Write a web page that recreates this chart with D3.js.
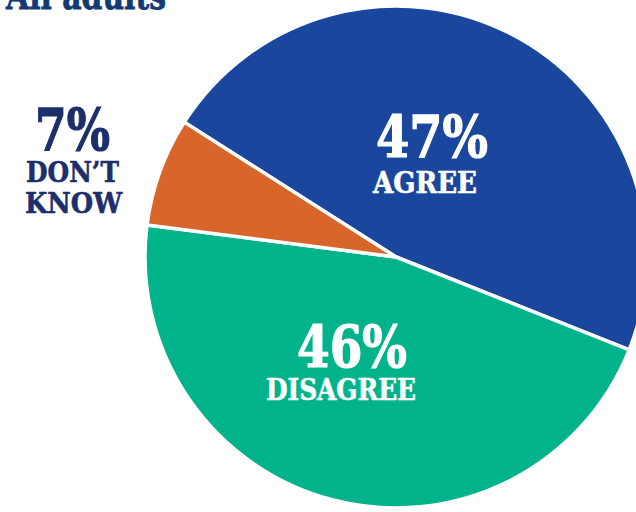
<!DOCTYPE html>
<html>
<head>
<meta charset="utf-8">
<script src="https://cdn.jsdelivr.net/npm/d3@7"></script>
<style>
  html, body { margin: 0; padding: 0; background: #fff; }
  svg { display: block; }
</style>
</head>
<body>
<svg id="chart" width="636" height="512"></svg>
<script>
const categories = ["AGREE", "DISAGREE", "DON\u2019T KNOW"];
const values = [47, 46, 7];
const pctLabels = ["47%", "46%", "7%"];
const colors = ["#1A479D", "#00B38A", "#D8652A"];
const title = "All adults";

const svg = d3.select("#chart");
const cx = 396, cy = 257, R = 251;

const pie = d3.pie().sort(null).value(d => d)
  .startAngle(-57.5 * Math.PI / 180)
  .endAngle(302.5 * Math.PI / 180);
const arcs = pie(values);
const arc = d3.arc().innerRadius(0).outerRadius(R);

const g = svg.append("g").attr("transform", `translate(${cx},${cy})`);
g.selectAll("path").data(arcs).join("path")
  .attr("d", arc)
  .attr("fill", (d, i) => colors[i])
  .attr("stroke", "#fff")
  .attr("stroke-width", 3.5)
  .attr("stroke-linejoin", "round");

// Title (cut off at top in the reference)
svg.append("text")
  .attr("x", 6).attr("y", 9)
  .attr("font-family", "DejaVu Serif")
  .attr("font-weight", "bold")
  .attr("font-size", 38)
  .attr("fill", "#123A74")
  .attr("stroke", "#123A74").attr("stroke-width", 0.8)
  .attr("textLength", 160).attr("lengthAdjust", "spacingAndGlyphs")
  .text(title);

const labelSpecs = [
  { color: "#fff", pct: { x: 376, y: 157, w: 112, fs: 57 },
    lines: [{ t: categories[0], x: 373, y: 193, w: 104, fs: 29 }] },
  { color: "#fff", pct: { x: 297, y: 367, w: 110, fs: 57 },
    lines: [{ t: categories[1], x: 266, y: 400, w: 150, fs: 29 }] },
  { color: "#1D2E6C", pct: { x: 35, y: 150, w: 75, fs: 57 },
    lines: [{ t: "DON\u2019T", x: 26, y: 182, w: 93, fs: 28 },
            { t: "KNOW", x: 25, y: 213, w: 97, fs: 28 }] }
];

labelSpecs.forEach((s, i) => {
  svg.append("text")
    .attr("x", s.pct.x).attr("y", s.pct.y)
    .attr("font-family", "DejaVu Serif")
    .attr("font-weight", "bold")
    .attr("font-size", s.pct.fs)
    .attr("fill", s.color)
    .attr("stroke", s.color).attr("stroke-width", 1.2)
    .attr("textLength", s.pct.w).attr("lengthAdjust", "spacingAndGlyphs")
    .text(pctLabels[i]);
  s.lines.forEach(l => {
    svg.append("text")
      .attr("x", l.x).attr("y", l.y)
      .attr("font-family", "DejaVu Serif")
      .attr("font-weight", "bold")
      .attr("font-size", l.fs)
      .attr("fill", s.color)
      .attr("stroke", s.color).attr("stroke-width", 0.6)
      .attr("textLength", l.w).attr("lengthAdjust", "spacingAndGlyphs")
      .text(l.t);
  });
});
</script>
</body>
</html>
